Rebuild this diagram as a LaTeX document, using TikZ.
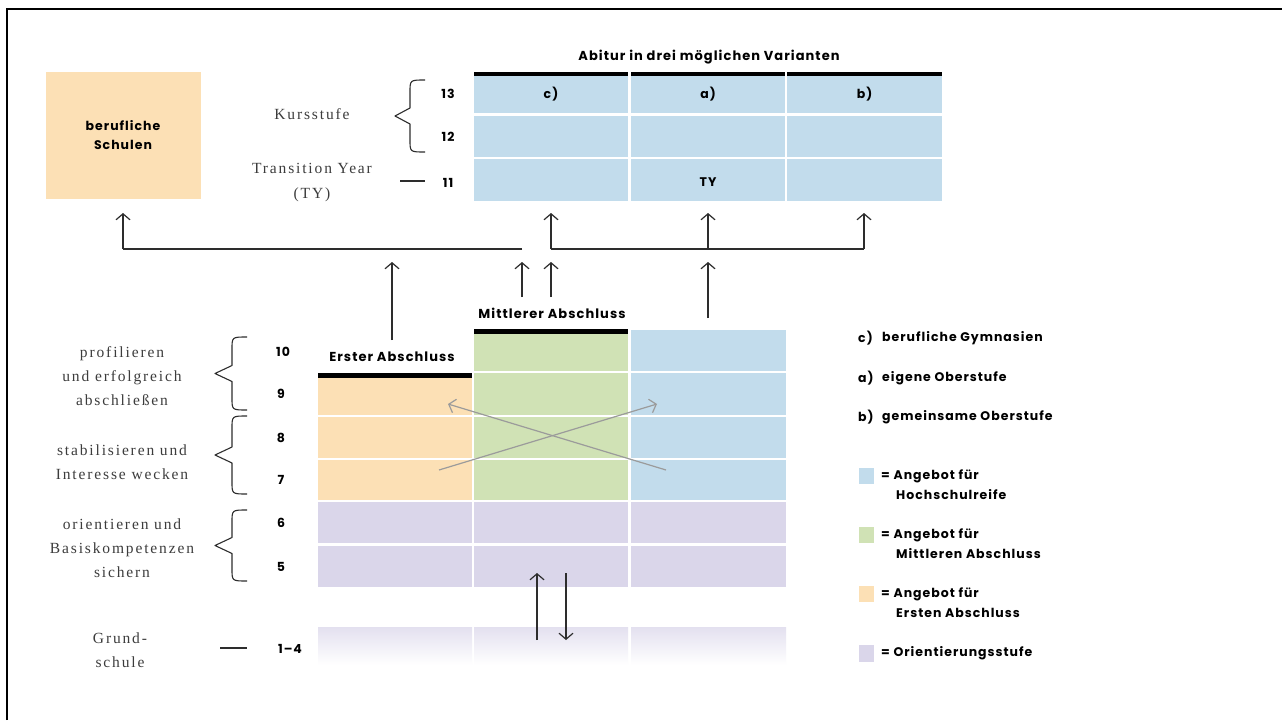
\documentclass[tikz,border=0pt]{standalone}
\usepackage{fontspec}
\usetikzlibrary{arrows.meta}
\newfontfamily\pop{Poppins}[LetterSpace=8]
\newfontfamily\serifl{Liberation Serif}[LetterSpace=12]
\definecolor{cblue}{RGB}{194,220,236}
\definecolor{cgreen}{RGB}{208,226,181}
\definecolor{cpeach}{RGB}{252,224,181}
\definecolor{clav}{RGB}{218,214,234}
\definecolor{ink}{RGB}{45,45,45}
\definecolor{labgray}{RGB}{60,60,60}
\definecolor{crossgray}{RGB}{155,155,155}
\tikzset{
  cell/.style={draw=none, inner sep=0pt, outer sep=0pt},
  bl/.style={font=\pop\bfseries\fontsize{12.5}{15}\selectfont, text=black, inner sep=0pt},
  blhead/.style={font=\pop\bfseries\fontsize{13}{15}\selectfont, text=black, inner sep=0pt},
  lab/.style={font=\serifl\fontsize{15.5}{24}\selectfont, text=labgray, align=center, inner sep=0pt},
  arr/.style={draw=ink, line width=1.2pt, -{Straight Barb[length=6pt,width=14pt,line width=1.2pt]}},
  conn/.style={draw=ink, line width=1.2pt},
  crossarr/.style={draw=crossgray, line width=1.2pt, -{Straight Barb[length=6pt,width=14pt,line width=1.2pt]}},
  bracestyle/.style={draw=ink, line width=1.1pt, line join=round},
  blackbar/.style={fill=black},
}
\newcommand\mybrace[4]{% #1 end x, #2 top y, #3 bottom y, #4 tip x
  \draw[bracestyle] (#1,#2) .. controls ({#1-15},#2) .. ({#1-15},{#2+12})
    -- ({#1-15},{(#2+#3)/2-8}) -- (#4,{(#2+#3)/2}) -- ({#1-15},{(#2+#3)/2+8})
    -- ({#1-15},{#3-12}) .. controls ({#1-15},#3) .. (#1,#3);}
\begin{document}
\begin{tikzpicture}[x=1pt,y=-1pt]
\useasboundingbox (0,0) rectangle (1282,720);
\fill[white] (0,0) rectangle (1282,720);
% frame
\draw[line width=2.5pt] (7,720) -- (7,9) -- (1282,9);

% berufliche Schulen
\node[cell, fill=cpeach, minimum width=155pt, minimum height=127pt] (bs) at (123.5,135.5) {};
\node[bl, align=center, font=\pop\bfseries\fontsize{12.5}{19}\selectfont] (bstext) at (123,135) {berufliche\\Schulen};

% top table
\node[blhead] (abitur) at (709,57) {Abitur in drei möglichen Varianten};
\fill[blackbar] (474,72) rectangle (628,76);
\fill[blackbar] (631,72) rectangle (785,76);
\fill[blackbar] (787,72) rectangle (942,76);
\node[cell, fill=cblue, minimum width=154pt, minimum height=37pt] (t13a) at (551,94.5) {};
\node[cell, fill=cblue, minimum width=154pt, minimum height=37pt] (t13b) at (708,94.5) {};
\node[cell, fill=cblue, minimum width=155pt, minimum height=37pt] (t13c) at (864.5,94.5) {};
\node[cell, fill=cblue, minimum width=154pt, minimum height=41pt] (t12a) at (551,136.5) {};
\node[cell, fill=cblue, minimum width=154pt, minimum height=41pt] (t12b) at (708,136.5) {};
\node[cell, fill=cblue, minimum width=155pt, minimum height=41pt] (t12c) at (864.5,136.5) {};
\node[cell, fill=cblue, minimum width=154pt, minimum height=42pt] (t11a) at (551,180) {};
\node[cell, fill=cblue, minimum width=154pt, minimum height=42pt] (t11b) at (708,180) {};
\node[cell, fill=cblue, minimum width=155pt, minimum height=42pt] (t11c) at (864.5,180) {};
\node[bl] at (t13a) {c)};
\node[bl] at (t13b) {a)};
\node[bl] at (t13c) {b)};
\node[bl] at (708,182) {TY};

% top labels
\node[bl] (n13) at (448,94) {13};
\node[bl] (n12) at (448,137) {12};
\node[bl] (n11) at (448,183) {11};
\node[lab] (kurs) at (312,114) {Kursstufe};
\node[lab, font=\serifl\fontsize{15.5}{25}\selectfont] (ty) at (312,183) {Transition Year\\(TY)};
\mybrace{425}{80}{152}{395}
\draw[conn] (400,181) -- (425,181);

% arrows to top
\coordinate (jl) at (522,249);
\coordinate (jr) at (551,249);
\coordinate (jbs) at (123,249);
\coordinate (ja) at (708,249);
\coordinate (jb) at (864,249);
\coordinate (hbs) at (123,213);
\coordinate (hc) at (551,213);
\coordinate (ha) at (708,213);
\coordinate (hb) at (864,213);
\draw[conn] (jl) -- (jbs);
\draw[conn] (jr) -- (jb);
\draw[arr] (jbs) -- (hbs);
\draw[arr] (jr) -- (hc);
\draw[arr] (ja) -- (ha);
\draw[arr] (jb) -- (hb);

% lower table
\node[blhead] (erster) at (392,357) {Erster Abschluss};
\node[blhead] (mittl) at (552,313) {Mittlerer Abschluss};
\fill[blackbar] (474,329) rectangle (628,334);
\fill[blackbar] (318,373) rectangle (472,378);
% row 10
\node[cell, fill=cgreen, minimum width=154pt, minimum height=37pt] (g10) at (551,352.5) {};
\node[cell, fill=cblue, minimum width=155pt, minimum height=41pt] (b10) at (708.5,350.5) {};
% row 9
\node[cell, fill=cpeach, minimum width=154pt, minimum height=37pt] (p9) at (395,396.5) {};
\node[cell, fill=cgreen, minimum width=154pt, minimum height=42pt] (g9) at (551,394) {};
\node[cell, fill=cblue, minimum width=155pt, minimum height=42pt] (b9) at (708.5,394) {};
% row 8
\node[cell, fill=cpeach, minimum width=154pt, minimum height=41pt] (p8) at (395,437.5) {};
\node[cell, fill=cgreen, minimum width=154pt, minimum height=41pt] (g8) at (551,437.5) {};
\node[cell, fill=cblue, minimum width=155pt, minimum height=41pt] (b8) at (708.5,437.5) {};
% row 7
\node[cell, fill=cpeach, minimum width=154pt, minimum height=40pt] (p7) at (395,480) {};
\node[cell, fill=cgreen, minimum width=154pt, minimum height=40pt] (g7) at (551,480) {};
\node[cell, fill=cblue, minimum width=155pt, minimum height=40pt] (b7) at (708.5,480) {};
% row 6
\node[cell, fill=clav, minimum width=154pt, minimum height=41pt] (l6a) at (395,522.5) {};
\node[cell, fill=clav, minimum width=154pt, minimum height=41pt] (l6b) at (551,522.5) {};
\node[cell, fill=clav, minimum width=155pt, minimum height=41pt] (l6c) at (708.5,522.5) {};
% row 5
\node[cell, fill=clav, minimum width=154pt, minimum height=41pt] (l5a) at (395,566.5) {};
\node[cell, fill=clav, minimum width=154pt, minimum height=41pt] (l5b) at (551,566.5) {};
\node[cell, fill=clav, minimum width=155pt, minimum height=41pt] (l5c) at (708.5,566.5) {};
% row 1-4 faded
\shade[top color=clav!75, bottom color=white] (318,627) rectangle (472,665);
\shade[top color=clav!75, bottom color=white] (474,627) rectangle (628,665);
\shade[top color=clav!75, bottom color=white] (631,627) rectangle (786,665);

% arrows from lower table up
\coordinate (e1) at (392,340);
\coordinate (e1h) at (392,262);
\coordinate (m1) at (522,297);
\coordinate (m1h) at (522,262);
\coordinate (m2) at (551,297);
\coordinate (m2h) at (551,262);
\coordinate (h1) at (708,318);
\coordinate (h1h) at (708,262);
\draw[arr] (e1) -- (e1h);
\draw[arr] (m1) -- (m1h);
\draw[arr] (m2) -- (m2h);
\draw[arr] (h1) -- (h1h);

% cross arrows
\coordinate (x1s) at (439,470);
\coordinate (x1e) at (657,404);
\coordinate (x2s) at (666,470);
\coordinate (x2e) at (448,404);
\draw[crossarr] (x1s) -- (x1e);
\draw[crossarr] (x2s) -- (x2e);

% Grundschule arrows
\coordinate (u1) at (537,640);
\coordinate (u1h) at (537,573);
\coordinate (d1) at (566,573);
\coordinate (d1h) at (566,640);
\draw[arr] (u1) -- (u1h);
\draw[arr] (d1) -- (d1h);

% lower left labels
\node[bl] (n10) at (283,352) {10};
\node[bl] (n9) at (281,394) {9};
\node[bl] (n8) at (281,438) {8};
\node[bl] (n7) at (281,480) {7};
\node[bl] (n6) at (281,523) {6};
\node[bl] (n5) at (281,567) {5};
\node[bl] (n14) at (290,649) {1–4};
\node[lab] (l1) at (122,376) {profilieren\\und erfolgreich\\abschließen};
\node[lab] (l2) at (122,462) {stabilisieren und\\Interesse wecken};
\node[lab] (l3) at (122,548) {orientieren und\\Basiskompetenzen\\sichern};
\node[lab] (l4) at (120,650) {Grund-\\schule};
\mybrace{247}{337}{410}{215}
\mybrace{247}{416}{494}{215}
\mybrace{247}{510}{581}{215}
\draw[conn] (220,648) -- (247,648);

% legend
\node[bl, anchor=west] (lc) at (858,338) {c)};
\node[bl, anchor=west] (lct) at (882,338) {berufliche Gymnasien};
\node[bl, anchor=west] (la) at (858,378) {a)};
\node[bl, anchor=west] (lat) at (882,378) {eigene Oberstufe};
\node[bl, anchor=west] (lb) at (858,417) {b)};
\node[bl, anchor=west] (lbt) at (882,417) {gemeinsame Oberstufe};
\fill[cblue] (859,468) rectangle (874,484);
\node[bl, anchor=west] at (881,476) {= Angebot für};
\node[bl, anchor=west] at (896,495) {Hochschulreife};
\fill[cgreen] (859,527) rectangle (874,543);
\node[bl, anchor=west] at (881,535) {= Angebot für};
\node[bl, anchor=west] at (896,554) {Mittleren Abschluss};
\fill[cpeach] (859,586) rectangle (874,602);
\node[bl, anchor=west] at (881,594) {= Angebot für};
\node[bl, anchor=west] at (896,613) {Ersten Abschluss};
\fill[clav] (859,645) rectangle (874,662);
\node[bl, anchor=west] at (881,653) {= Orientierungsstufe};
\end{tikzpicture}
\end{document}
